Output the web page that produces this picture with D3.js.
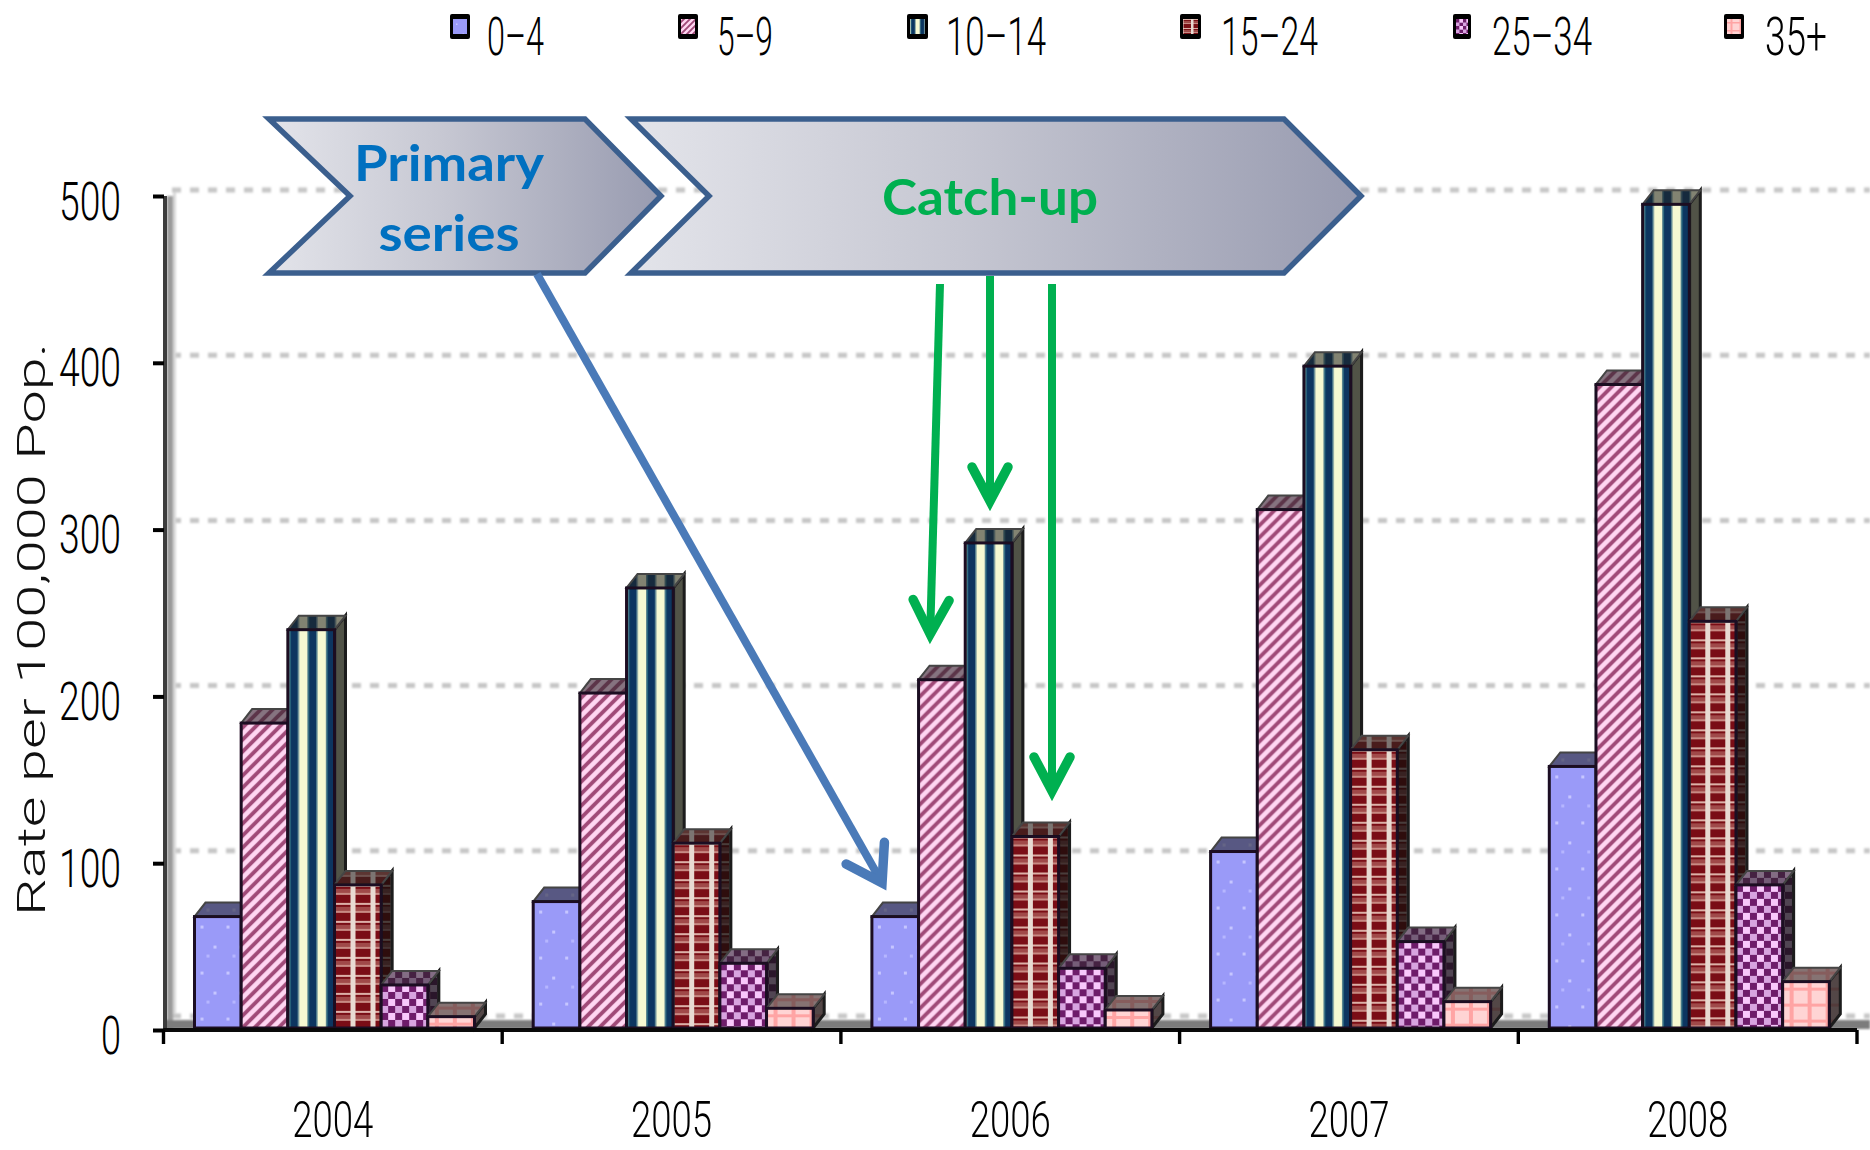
<!DOCTYPE html>
<html><head><meta charset="utf-8">
<style>html,body{margin:0;padding:0;background:#fff;overflow:hidden}svg{display:block}</style>
<script src="https://cdn.jsdelivr.net/npm/d3@7"></script>
</head><body>
<script>
const years = ["2004","2005","2006","2007","2008"];
const ageGroups = ["0–4","5–9","10–14","15–24","25–34","35+"];
const rate0to4   = [68, 77, 68, 107, 158];
const rate5to9   = [184, 202, 210, 312, 387];
const rate10to14 = [240, 265, 292, 398, 495];
const rate15to24 = [87, 112, 116, 168, 245];
const rate25to34 = [27, 40, 37, 53, 87];
const rate35plus = [8, 13, 12, 17, 29];
const seriesValues = [rate0to4, rate5to9, rate10to14, rate15to24, rate25to34, rate35plus];
const yTicks = [0,100,200,300,400,500];
const yTitle = "Rate per 100,000 Pop.";
const phaseLabels = [["Primary","series"],["Catch-up"]];

const W=1870,H=1150;
const svg=d3.select("body").append("svg").attr("width",W).attr("height",H);
const defs=svg.append("defs");
const y=d3.scaleLinear().domain([0,500]).range([1030,196]);
const yBack=d3.scaleLinear().domain([0,500]).range([1016,190]);
const x=d3.scaleBand().domain(years).range([163.5,1857]);
const s=d3.scaleBand().domain(d3.range(6)).range([31,311]);
const DX=11,DY=-14;
const FONT="Roboto,'Liberation Sans',Arial,sans-serif";

// patterns: p* for the bars, l* the same tile at half size for the legend swatches
function pat(k,w,h,draw){
  [["p",1],["l",0.5]].forEach(([pre,sc])=>{
    const p=defs.append("pattern").attr("id",pre+k).attr("patternUnits","userSpaceOnUse").attr("width",w).attr("height",h);
    if(sc!==1)p.attr("patternTransform",`scale(${sc})`);
    draw(p);
  });
}
const R=(p,x,y,w,h,f,o)=>p.append("rect").attr("x",x).attr("y",y).attr("width",w).attr("height",h).attr("fill",f).attr("opacity",o==null?1:o);
pat(0,26,46,p=>{R(p,0,0,26,46,"#9a9af8");R(p,6,9,3,3,"#c6c6ff");R(p,19,29,3,3,"#c6c6ff");R(p,12,38,3,3,"#b6b6ff")});
pat(1,12,12,p=>{R(p,0,0,12,12,"#ffd6f2");
  p.append("path").attr("d","M-3,9 L9,-3 M-3,21 L21,-3 M3,15 L15,3").attr("stroke","#a04a78").attr("stroke-width",3.8).attr("fill","none")});
pat(2,18.5,10,p=>{R(p,0,0,18.5,10,"#0a3560");R(p,11,0,7.5,10,"#f6f9d2");R(p,0,0,1.5,10,"#f6f9d2");R(p,10,0,1,10,"#6f9aa0");R(p,1.5,0,1.5,10,"#2d6a80")});
pat(3,20,18,p=>{R(p,0,0,20,18,"#7a1015");R(p,0,4,20,5,"#a04a48");R(p,0,8,20,2,"#c88a84");R(p,0,0,20,2,"#dcb0a8");R(p,16,0,5,18,"#e8dad2");R(p,0,0,1,18,"#e8dad2");});
pat(4,14,14,p=>{R(p,0,0,14,14,"#d8a4e0");R(p,0,0,7,7,"#6e1e6a");R(p,7,7,7,7,"#6e1e6a");R(p,7,0,7,7,"#f8c8fb")});
pat(5,18,16,p=>{R(p,0,0,18,16,"#ffd4d4");R(p,7,0,4,16,"#ffa4a4");R(p,0,6,18,3,"#ffa4a4")});
const g1=defs.append("linearGradient").attr("id","chev");
g1.append("stop").attr("offset","0").attr("stop-color","#e3e4ea");
g1.append("stop").attr("offset","0.45").attr("stop-color","#c6c7d2");
g1.append("stop").attr("offset","1").attr("stop-color","#989bb0");
defs.append("filter").attr("id","soft").attr("x","-2%").attr("y","-2%").attr("width","104%").attr("height","104%")
  .append("feGaussianBlur").attr("stdDeviation",0.75);
defs.append("filter").attr("id","soft2").attr("x","-2%").attr("y","-20%").attr("width","104%").attr("height","140%")
  .append("feGaussianBlur").attr("stdDeviation",1);

// wall, floor, grid
const bg=svg.append("g").attr("filter","url(#soft2)");
bg.selectAll("line.grid").data(yTicks).join("line").attr("class","grid")
  .attr("x1",172).attr("x2",W).attr("y1",d=>yBack(d)).attr("y2",d=>yBack(d))
  .attr("stroke","#c6c6c6").attr("stroke-width",5).attr("stroke-dasharray","9 9");
bg.append("rect").attr("x",167).attr("y",196).attr("width",6).attr("height",834).attr("fill","#9a9a9a");
bg.append("rect").attr("x",173).attr("y",192).attr("width",3).attr("height",822).attr("fill","#d8d8d8");
bg.append("rect").attr("x",165).attr("y",1020).attr("width",W-165).attr("height",9).attr("fill","#7c7c7c");

// bars (painted left to right so each front hides the previous side)
const barsRoot=svg.append("g").attr("filter","url(#soft)");
const flat=[];
years.forEach((yr,i)=>seriesValues.forEach((vals,k)=>flat.push({yr,k,v:vals[i]})));
const bw=s.bandwidth();
const bar=barsRoot.selectAll("g.bar").data(flat).join("g").attr("class","bar")
  .attr("transform",d=>`translate(${x(d.yr)+s(d.k)},${y(d.v)})`);
const barH=d=>y(0)-2-y(d.v);
const sideFace=d=>`M${bw},0 l${DX},${DY} V${barH(d)+DY} L${bw},${barH(d)} Z`;
const topFace=`M0,0 l${DX},${DY} h${bw} l${-DX},${-DY} Z`;
bar.append("path").attr("d",sideFace).attr("fill",d=>`url(#p${d.k})`);
bar.append("path").attr("d",sideFace).attr("fill","#111").attr("fill-opacity",.72).attr("stroke","#1c1c1c").attr("stroke-width",3);
bar.append("path").attr("d",topFace).attr("fill",d=>`url(#p${d.k})`);
bar.append("path").attr("d",topFace).attr("fill","#222").attr("fill-opacity",.55).attr("stroke","#444").attr("stroke-width",2);
bar.append("rect").attr("width",bw).attr("height",d=>barH(d)).attr("fill",d=>`url(#p${d.k})`)
  .attr("stroke","#1a1020").attr("stroke-width",3);

// axes
const gy=svg.append("g").attr("transform","translate(164,0)")
  .call(d3.axisLeft(y).tickValues(yTicks).tickSize(11).tickPadding(32).tickFormat(d3.format("d")));
gy.select(".domain").attr("stroke","#3c3c3c").attr("stroke-width",4).attr("d","M1,196V1030");
gy.selectAll(".tick line").attr("stroke","#000").attr("stroke-width",4);
gy.selectAll(".tick text").attr("font-family",FONT).attr("font-weight",300).attr("font-size",54).attr("fill","#000")
  .attr("dy",0).attr("y",23).attr("textLength",d=>d===0?20:62).attr("lengthAdjust","spacingAndGlyphs");

const gx=svg.append("g").attr("transform",`translate(0,${y(0)})`)
  .call(d3.axisBottom(x).tickSize(0).tickPadding(0));
gx.select(".domain").attr("stroke","#0a0a0a").attr("stroke-width",4).attr("d","M163.5,0H1857");
gx.selectAll(".tick text").attr("font-family",FONT).attr("font-weight",300).attr("font-size",50).attr("fill","#000")
  .attr("dy",0).attr("y",107).attr("textLength",81).attr("lengthAdjust","spacingAndGlyphs");
const edges=years.map(d=>x(d)).concat(x(years[4])+x.step());
gx.selectAll("line.edge").data(edges).join("line").attr("class","edge")
  .attr("x1",d=>d).attr("x2",d=>d).attr("y1",0).attr("y2",14).attr("stroke","#000").attr("stroke-width",3.4);

svg.append("text").attr("transform","translate(45,916) rotate(-90)")
  .attr("font-family",FONT).attr("font-weight",300).attr("font-size",39).attr("fill","#111")
  .attr("textLength",573).attr("lengthAdjust","spacingAndGlyphs").text(yTitle);

// legend
const legendSwatchX=[450,678,907,1180,1453,1724];
const legendSwatchW=[20,20,21,21,18,20];
const legendTextX=[487,717,946,1221,1492,1765];
const legendTextW=[57,56,100,97,100,62];
const lg=svg.append("g").selectAll("g").data(ageGroups).join("g");
lg.append("rect").attr("x",(d,i)=>legendSwatchX[i]).attr("y",14).attr("width",(d,i)=>legendSwatchW[i]).attr("height",25).attr("rx",2).attr("fill","#000");
lg.append("g").attr("transform",(d,i)=>`translate(${legendSwatchX[i]+3},19)`)
  .append("rect").attr("width",(d,i)=>legendSwatchW[i]-6).attr("height",15).attr("fill",(d,i)=>`url(#l${i})`);
lg.append("text").attr("x",(d,i)=>legendTextX[i]).attr("y",55).attr("font-family",FONT).attr("font-weight",300).attr("font-size",54).attr("fill","#000")
  .attr("textLength",(d,i)=>legendTextW[i]).attr("lengthAdjust","spacingAndGlyphs").text(d=>d);

// phase chevrons
const chev=[
 [[269,119],[585,119],[661,196],[585,273],[269,273],[350,196]],
 [[631,119],[1284,119],[1361,196],[1284,273],[631,273],[709,196]]
];
svg.selectAll("polygon.chev").data(chev).join("polygon").attr("class","chev")
  .attr("points",d=>d.join(" ")).attr("fill","url(#chev)").attr("stroke","#3b5f8e").attr("stroke-width",5.5).attr("stroke-linejoin","miter");
const LAT="Lato,'Open Sans',sans-serif";
const lab=svg.append("g").attr("font-family",LAT).attr("font-weight",700).attr("font-size",50).attr("text-anchor","middle");
lab.append("text").attr("x",449).attr("y",181).attr("fill","#0070c0").attr("textLength",190).attr("lengthAdjust","spacingAndGlyphs").text(phaseLabels[0][0]);
lab.append("text").attr("x",449).attr("y",251).attr("fill","#0070c0").attr("textLength",141).attr("lengthAdjust","spacingAndGlyphs").text(phaseLabels[0][1]);
lab.append("text").attr("x",990).attr("y",215).attr("fill","#00b050").attr("textLength",216).attr("lengthAdjust","spacingAndGlyphs").text(phaseLabels[1][0]);

// arrows
const arrows=[
 {from:[537,274],to:[885,888],c:"#4a7ab8",w:8,hl:34,hw:22},
 {from:[940,284],to:[930,640],c:"#00b050",w:8,hl:34,hw:18},
 {from:[990,276],to:[990,507],c:"#00b050",w:8,hl:34,hw:18},
 {from:[1052,284],to:[1052,797],c:"#00b050",w:8,hl:34,hw:18}
];
const ag=svg.append("g").attr("fill","none").attr("stroke-linecap","round").attr("stroke-linejoin","miter");
arrows.forEach(a=>{
  const [x0,y0]=a.from,[x1,y1]=a.to,L=Math.hypot(x1-x0,y1-y0),ux=(x1-x0)/L,uy=(y1-y0)/L;
  const tipx=x1-ux*6,tipy=y1-uy*6;
  ag.append("path").attr("d",`M${x0},${y0}L${tipx},${tipy}`).attr("stroke",a.c).attr("stroke-width",a.w).attr("stroke-linecap","butt");
  const bx=tipx-ux*a.hl,by=tipy-uy*a.hl;
  ag.append("path").attr("d",`M${bx-uy*a.hw},${by+ux*a.hw}L${tipx},${tipy}L${bx+uy*a.hw},${by-ux*a.hw}`).attr("stroke",a.c).attr("stroke-width",a.w+1.5);
});
</script>
</body></html>
